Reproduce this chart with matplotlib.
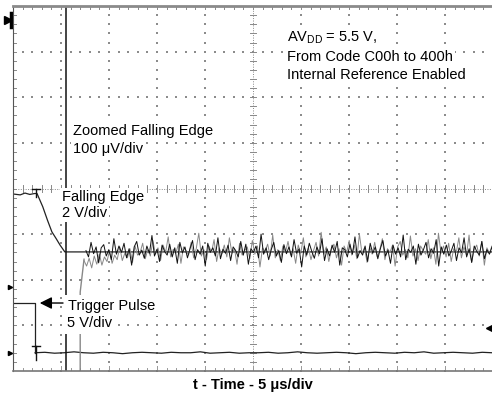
import numpy as np
import matplotlib
matplotlib.use("Agg")
import matplotlib.pyplot as plt

plt.rcParams["font.family"] = ["Liberation Sans", "DejaVu Sans"]

# screen is 10 x 8 divisions, time 5 us/div
n_xdiv = 10
n_ydiv = 8

# falling edge, 2 V/div (x in div, y in div from bottom)
edge_x = [0.00, 0.15, 0.25, 0.35, 0.45, 0.50, 0.62, 0.72, 0.81, 0.90, 0.98, 1.08, 9.98]
edge_y = [3.88, 3.86, 3.90, 3.87, 3.89, 3.89, 3.60, 3.30, 3.05, 2.90, 2.76, 2.61, 2.61]

# trigger pulse, 5 V/div
trig_x = [0.00, 0.46, 0.46]
trig_y = [1.50, 1.50, 0.40]
trig_low = [0.40, 0.41, 0.39, 0.40, 0.42, 0.40, 0.39, 0.41, 0.40, 0.38, 0.40, 0.41,
            0.40, 0.39, 0.41, 0.40, 0.40, 0.42, 0.39, 0.40, 0.41, 0.39, 0.40, 0.40,
            0.41, 0.39, 0.40, 0.42, 0.40, 0.39, 0.40, 0.41, 0.40, 0.38, 0.40, 0.41,
            0.40, 0.39, 0.41, 0.40, 0.42, 0.39, 0.40, 0.41, 0.40, 0.39, 0.41, 0.40]

# zoomed falling edge, 100 uV/div (offsets from settled level, in div)
zoom_level = 2.62
zoom_black = [
    0.02, -0.12, 0.20, -0.05, 0.10, -0.25, 0.08, 0.15, -0.10, 0.04, -0.18, 0.28, -0.06, 0.12, -0.02, 0.18, -0.14,
    0.06, -0.30, 0.10, 0.22, -0.08, 0.03, -0.15, 0.12, -0.04, 0.35, -0.10, 0.05, -0.22, 0.14, 0.00, -0.08,
    0.16, -0.12, 0.08, -0.26, 0.20, -0.03, 0.10, -0.14, 0.06, 0.24, -0.18, 0.04, -0.06, 0.12, -0.32, 0.18,
    -0.02, 0.08, -0.10, 0.30, -0.16, 0.05, -0.04, 0.14, -0.20, 0.10, 0.02, -0.12, 0.22, -0.08, 0.16, -0.28,
    0.06, -0.02, 0.12, -0.14, 0.38, -0.06, 0.08, -0.18, 0.04, 0.20, -0.10, 0.02, -0.24, 0.15, -0.05, 0.10,
    -0.12, 0.26, -0.04, 0.06, -0.34, 0.12, -0.08, 0.18, 0.00, -0.15, 0.10, -0.05, 0.28, -0.20, 0.06, -0.10,
    0.14, -0.02, 0.22, -0.30, 0.08, 0.04, -0.12, 0.16, -0.06, 0.32, -0.14, 0.02, -0.08, 0.12, -0.22, 0.18,
    -0.04, 0.10, -0.16, 0.06, 0.24, -0.10, 0.03, -0.26, 0.14, -0.06, 0.08, -0.12, 0.36, -0.18, 0.05, -0.02,
    0.12, -0.28, 0.16, -0.08, 0.04, 0.20, -0.14, 0.06, -0.04, 0.26, -0.32, 0.10, -0.06, 0.14, -0.10, 0.02,
    0.18, -0.20, 0.08, -0.03, 0.30, -0.12, 0.06, -0.24, 0.12, 0.00, -0.08, 0.22, -0.16, 0.04, -0.06, 0.10]
zoom_gray = [
    -0.20, -0.32, -0.15, -0.36, -0.10, -0.28, -0.05, -0.30, -0.12, -0.22, 0.02, -0.26, -0.08, -0.18, 0.10, -0.20, -0.04,
    -0.14, 0.06, -0.24, 0.12, -0.08, -0.02, 0.18, -0.16, 0.04, -0.10, 0.24, -0.06, 0.08, -0.20, 0.14, -0.02,
    0.32, -0.12, 0.05, -0.04, 0.16, -0.26, 0.10, 0.02, -0.08, 0.20, -0.14, 0.06, 0.40, -0.10, 0.04, -0.18,
    0.12, -0.02, 0.26, -0.22, 0.08, -0.06, 0.14, -0.12, 0.30, -0.04, 0.06, -0.28, 0.18, -0.08, 0.02, 0.10,
    -0.16, 0.24, -0.06, 0.12, -0.34, 0.08, 0.00, 0.16, -0.10, 0.36, -0.14, 0.04, -0.20, 0.12, -0.02, 0.22,
    -0.08, 0.06, -0.26, 0.14, -0.04, 0.30, -0.12, 0.08, -0.18, 0.02, 0.20, -0.10, 0.42, -0.06, 0.10, -0.22,
    0.04, 0.16, -0.14, 0.06, -0.30, 0.12, -0.02, 0.24, -0.08, 0.14, -0.16, 0.38, -0.04, 0.08, -0.24, 0.10,
    -0.06, 0.20, -0.12, 0.04, 0.28, -0.18, 0.06, -0.02, 0.14, -0.32, 0.10, 0.22, -0.08, 0.04, -0.14, 0.34,
    -0.10, 0.06, -0.20, 0.12, 0.02, -0.06, 0.26, -0.16, 0.08, -0.28, 0.40, -0.04, 0.12, -0.12, 0.18, -0.22,
    0.06, -0.02, 0.30, -0.14, 0.10, -0.08, 0.36, -0.24, 0.04, 0.14, -0.10, 0.22, -0.30, 0.08, -0.04, 0.12]
gray_rise_x = [1.40, 1.40, 1.48]
gray_rise_y = [0.00, 1.73, 2.45]

W, H = 492, 394
fig = plt.figure(figsize=(W / 100, H / 100), dpi=100)
ax = fig.add_axes([13 / W, 23 / H, 479 / W, 365 / H])
xmax = 479 / 48
ax.set_xlim(0, xmax)
ax.set_ylim(0, n_ydiv)
ax.set_xticks([])
ax.set_yticks([])
ax.spines["right"].set_visible(False)
ax.spines["top"].set_color("#8a8a8a")
ax.spines["top"].set_linewidth(2)
ax.spines["left"].set_color("#555555")
ax.spines["bottom"].set_color("#777777")
ax.spines["bottom"].set_linewidth(1.2)

# dotted grid
minor = np.arange(0, n_xdiv + 0.01, 0.2)
minor_y = np.arange(0, n_ydiv + 0.01, 0.2)
for gx in range(1, n_xdiv):
    if gx == 5:
        continue
    ax.scatter(np.full(len(minor_y), gx), minor_y, s=0.9, color="#8c8c8c", marker="s", lw=0)
for gy in range(1, n_ydiv):
    if gy == 4:
        continue
    ax.scatter(minor, np.full(len(minor), gy), s=0.9, color="#8c8c8c", marker="s", lw=0)

# centre lines with small ticks
ax.axvline(5, color="#888888", lw=0.7, ls=(0, (1, 1.5)))
ax.axhline(4, color="#888888", lw=0.7, ls=(0, (1, 1.5)))
for m in minor:
    ax.plot([m, m], [3.93, 4.07], color="#888888", lw=0.7)
for m in minor_y:
    ax.plot([4.94, 5.06], [m, m], color="#888888", lw=0.7)
# border ticks
for m in minor:
    ax.plot([m, m], [8, 7.93], color="#888888", lw=0.7)
    ax.plot([m, m], [0, 0.07 if m % 1 else 0.12], color="#999999", lw=0.7)
for m in minor_y:
    ax.plot([0, 0.07], [m, m], color="#888888", lw=0.7)

# traces
ax.plot(edge_x, edge_y, color="#222222", lw=0.9)
ax.plot(trig_x, trig_y, color="#222222", lw=0.9)
ax.plot(np.linspace(0.46, xmax, len(trig_low)), trig_low, color="#222222", lw=0.9)
ax.plot(gray_rise_x, gray_rise_y, color="#888888", lw=1.0)
ax.plot(np.linspace(1.48, xmax, len(zoom_gray)), zoom_level + np.array(zoom_gray),
        color="#888888", lw=0.7)
ax.plot([1.10, 1.10], [0, 8], color="#111111", lw=1.1)
ax.plot(np.linspace(1.52, xmax, len(zoom_black)), zoom_level + np.array(zoom_black),
        color="#111111", lw=0.7)

# trigger markers "T"
for ty, tb in [(3.98, 3.82), (0.55, 0.25)]:
    ax.plot([0.40, 0.56], [ty, ty], color="#111111", lw=1.0)
    ax.plot([0.48, 0.48], [ty, tb], color="#111111", lw=1.0)

# ground markers
ax.plot([-0.06], [1.84], marker=">", ms=3, color="black", clip_on=False)
ax.plot([-0.06], [0.39], marker=">", ms=3, color="black", clip_on=False)
ax.plot([9.93], [0.94], marker="<", ms=6, color="black", clip_on=False)
ax.plot([-0.10], [7.70], marker=">", ms=6, color="black", clip_on=False)
ax.plot([-0.05, -0.05], [7.55, 7.85], color="black", lw=2.5, clip_on=False)

# labels
fs = 10.5
box = dict(facecolor="white", edgecolor="none", pad=1.5)
ax.text(5.71, 7.30, "AV$_\\mathregular{DD}$ = 5.5 V,", fontsize=fs, va="center", bbox=box)
ax.text(5.71, 6.89, "From Code C00h to 400h", fontsize=fs, va="center", bbox=box)
ax.text(5.71, 6.49, "Internal Reference Enabled", fontsize=fs, va="center", bbox=box)
ax.text(1.25, 5.26, "Zoomed Falling Edge", fontsize=fs, va="center", bbox=box)
ax.text(1.25, 4.87, "100 μV/div", fontsize=fs, va="center", bbox=box)
ax.text(1.02, 3.82, "Falling Edge", fontsize=fs, va="center", bbox=box)
ax.text(1.02, 3.46, "2 V/div", fontsize=fs, va="center", bbox=box)
ax.text(1.14, 1.43, "Trigger Pulse", fontsize=fs, va="center",
        bbox=dict(facecolor="white", edgecolor="none", pad=2.5))
ax.text(1.12, 1.05, "5 V/div", fontsize=fs, va="center",
        bbox=dict(facecolor="white", edgecolor="none", pad=2.5))
ax.annotate("", xy=(0.50, 1.49), xytext=(1.10, 1.49),
            arrowprops=dict(arrowstyle="-|>", color="black", lw=1.0, mutation_scale=18))

fig.text(253 / W, 1 - 385 / H, "t - Time - 5 μs/div", fontsize=fs, fontweight="bold",
         ha="center", va="center")

fig.savefig("out.png", dpi=100)
